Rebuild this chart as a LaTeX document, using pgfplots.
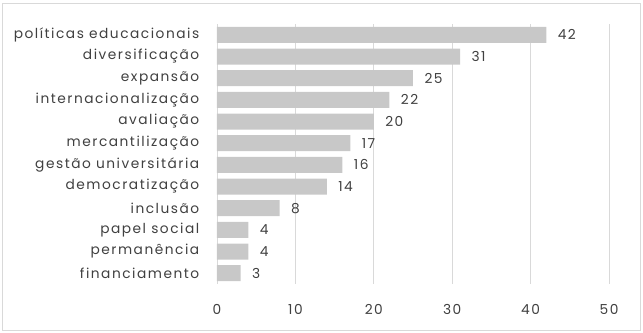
\documentclass[border=0pt]{standalone}
\usepackage{pgfplots}
\pgfplotsset{compat=1.18}
\usepackage{fontspec}
\setmainfont{Poppins}[LetterSpace=11]
\definecolor{barc}{HTML}{C8C8C8}
\definecolor{gridc}{HTML}{D9D9D9}
\definecolor{txt}{HTML}{404040}
\begin{document}
\begin{tikzpicture}
\useasboundingbox (-217bp,-49bp) rectangle (426bp,284bp);
\draw[gridc, line width=0.8bp] (-215bp,-46bp) rectangle (423bp,281bp);
\begin{axis}[
  at={(0,0)}, anchor=south west,
  scale only axis, width=392bp, height=260bp,
  xbar, bar width=16bp,
  xmin=0, xmax=50, ymin=-0.5, ymax=11.5,
  y dir=reverse,
  xtick={0,10,20,30,40,50},
  ytick={0,...,11},
  yticklabels={políticas educacionais, diversificação, expansão, internacionalização, avaliação, mercantilização, gestão universitária, democratização, inclusão, papel social, permanência, financiamento},
  axis line style={draw=none},
  tick style={draw=none},
  xmajorgrids, major grid style={gridc, line width=0.8bp},
  ticklabel style={font=\fontsize{13.8}{15}\selectfont, text=txt},
  /pgf/number format/assume math mode=true,
  yticklabel style={xshift=-10bp},
  xticklabel style={yshift=-17bp},
  nodes near coords,
  nodes near coords style={font=\fontsize{13.8}{15}\selectfont, text=txt, xshift=8bp},
  clip=false,
]
\addplot[fill=barc, draw=none] coordinates {
(42,0) (31,1) (25,2) (22,3) (20,4) (17,5) (16,6) (14,7) (8,8) (4,9) (4,10) (3,11)
};
\end{axis}
\end{tikzpicture}
\end{document}
